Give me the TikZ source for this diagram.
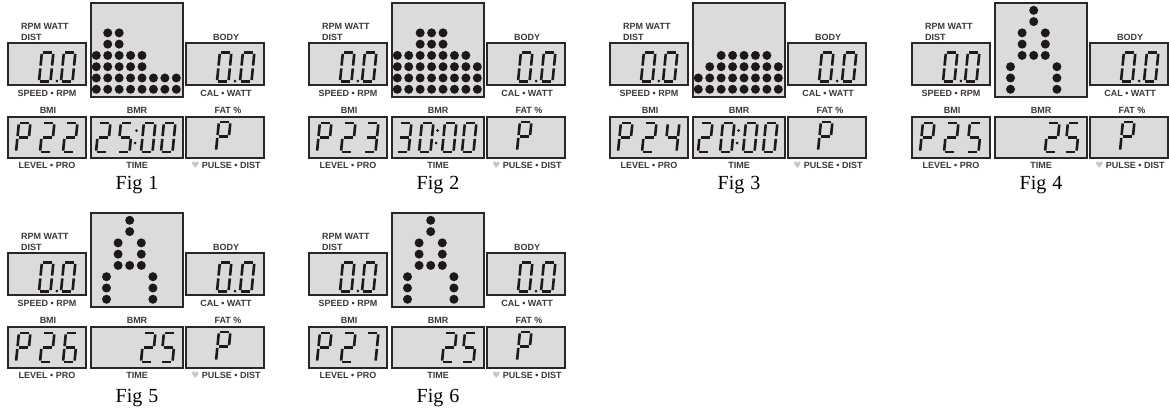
\documentclass[tikz,border=0pt]{standalone}
\usepackage{fontspec}
\setmainfont{Liberation Serif}
\setsansfont{Liberation Sans}
\newfontfamily\cuorefont{DejaVu Sans}
\usepackage{tikz}
\usetikzlibrary{positioning}

\definecolor{fondolcd}{RGB}{219,219,219}
\definecolor{bordo}{RGB}{45,38,38}
\definecolor{inchiostro}{RGB}{30,24,24}
\definecolor{scritta}{RGB}{60,56,56}

\tikzset{
  lcdbox/.style={draw=bordo, fill=fondolcd, line width=1.5pt},
  lcdseg/.style={draw=inchiostro, line width=2.6pt},
  punto/.style={fill=inchiostro},
  etic/.style={font=\sffamily\bfseries\fontsize{9}{9}\selectfont, text=scritta, inner sep=0pt},
  didascalia/.style={font=\fontsize{20}{20}\selectfont, inner sep=0pt},
}

% Segmenti della cifra (coordinate locali, base in basso a sinistra)
\def\trattoa{(1.4,-29) -- (10.1,-29)}
\def\trattob{(11.5,-27.6) -- (11.5,-15.9)}
\def\trattoc{(11.5,-13.1) -- (11.5,-1.4)}
\def\trattod{(1.4,0) -- (10.1,0)}
\def\trattoe{(0,-1.4) -- (0,-13.1)}
\def\trattof{(0,-15.9) -- (0,-27.6)}
\def\trattog{(1.4,-14.5) -- (10.1,-14.5)}

% Cifre
\newcommand{\defcifra}[2]{\expandafter\def\csname cifra#1\endcsname{#2}}
\defcifra{0}{a,b,c,d,e,f}
\defcifra{2}{a,b,g,e,d}
\defcifra{3}{a,b,g,c,d}
\defcifra{4}{f,g,b,c}
\defcifra{5}{a,f,g,c,d}
\defcifra{6}{a,f,g,e,d,c}
\defcifra{7}{a,b,c}
\defcifra{P}{a,b,f,g,e}

\newcommand{\lcdcifra}[3]{%
  \begin{scope}[shift={(#1,#2)}, xslant=0.1]
    \edef\listaseg{\csname cifra#3\endcsname}
    \foreach \s in \listaseg {\draw[lcdseg] \csname tratto\s\endcsname;}
  \end{scope}}

% Barre di punti: colonna/altezza
\newcommand{\barre}[1]{%
  \foreach \c/\h in {#1} {
    \foreach \r in {1,...,\h} {
      \fill[punto] ({96.3+11.43*\c},{10.3+11.28*(8-\r)}) circle (4.5pt);
    }
  }}

% Lettera A di punti
\newcommand{\letteraA}{%
  \foreach \c/\r in {2/0,2/1,1/2,3/2,1/3,3/3,1/4,2/4,3/4,0/5,4/5,0/6,4/6,0/7,4/7} {
    \fill[punto] ({106.5+11.6*\c},{10.3+11.28*\r}) circle (4.5pt);
  }}

% Livello P.. e tempo
\newcommand{\livello}[2]{%
  \lcdcifra{16}{152}{P} \lcdcifra{40}{152}{#1} \lcdcifra{63}{152}{#2}}
\newcommand{\tempo}[2]{%
  \lcdcifra{96}{152}{#1} \lcdcifra{118}{152}{#2}
  \fill[inchiostro] (136.5,130.5) circle (1.5pt);
  \fill[inchiostro] (135.2,143) circle (1.5pt);
  \lcdcifra{141}{152}{0} \lcdcifra{161}{152}{0}}
\newcommand{\etalcd}{%
  \lcdcifra{141}{152}{2} \lcdcifra{161}{152}{5}}

% Pannello completo
\newcommand{\pannello}[5]{%
\begin{scope}[shift={(#2,#3)}]
  % riquadri
  \draw[lcdbox] (8,43) rectangle (86,85);
  \draw[lcdbox] (91,3) rectangle (183,97);
  \draw[lcdbox] (186,43) rectangle (264,85);
  \draw[lcdbox] (8,117) rectangle (86,158);
  \draw[lcdbox] (91,117) rectangle (183,158);
  \draw[lcdbox] (186,117) rectangle (264,158);

  % scritte
  \node[etic, anchor=west] (#1-rpm) at (21,26) {RPM WATT};
  \node[etic, anchor=west] (#1-dist) at (21,37) {DIST};
  \node[etic] (#1-body) at (226,37) {BODY};
  \node[etic] (#1-speed) at (47,93) {SPEED • RPM};
  \node[etic] (#1-cal) at (226,93) {CAL • WATT};
  \node[etic] (#1-bmi) at (48,110) {BMI};
  \node[etic] (#1-bmr) at (137,110) {BMR};
  \node[etic] (#1-fat) at (228,110) {FAT \%};
  \node[etic] (#1-level) at (47,165) {LEVEL • PRO};
  \node[etic] (#1-time) at (137,165) {TIME};
  \node[etic] (#1-pulse) at (226,165) {{\cuorefont\textcolor{black!22}{♥}} PULSE • DIST};
  \node[didascalia] (#1-fig) at (137,#5) {Fig\hspace{0.3em}#4};

  % 0.0 fissi
  \lcdcifra{39}{81.5}{0} \lcdcifra{61}{81.5}{0}
  \fill[inchiostro] (56.8,81) circle (1.5pt);
  \lcdcifra{217}{81.5}{0} \lcdcifra{240}{81.5}{0}
  \fill[inchiostro] (235,81) circle (1.5pt);

  % P del grasso
  \lcdcifra{216}{151}{P}
\end{scope}}

\begin{document}
\begin{tikzpicture}[x=1pt, y=-1pt]
\useasboundingbox (0,0) rectangle (1169,416);

% Fig 1
\pannello{f1}{0}{0}{1}{185}
\begin{scope}[shift={(0,0)}]
  \barre{0/4,1/6,2/6,3/4,4/4,5/2,6/2,7/2}
  \livello{2}{2}
  \tempo{2}{5}
\end{scope}

% Fig 2
\pannello{f2}{301}{0}{2}{185}
\begin{scope}[shift={(301,0)}]
  \barre{0/4,1/4,2/6,3/6,4/6,5/4,6/4,7/3}
  \livello{2}{3}
  \tempo{3}{0}
\end{scope}

% Fig 3
\pannello{f3}{602}{0}{3}{185}
\begin{scope}[shift={(602,0)}]
  \barre{0/2,1/3,2/4,3/4,4/4,5/4,6/4,7/3}
  \livello{2}{4}
  \tempo{2}{0}
\end{scope}

% Fig 4
\pannello{f4}{904}{0}{4}{185}
\begin{scope}[shift={(904,0)}]
  \letteraA
  \livello{2}{5}
  \etalcd
\end{scope}

% Fig 5
\pannello{f5}{0}{210}{5}{188}
\begin{scope}[shift={(0,210)}]
  \letteraA
  \livello{2}{6}
  \etalcd
\end{scope}

% Fig 6
\pannello{f6}{301}{210}{6}{188}
\begin{scope}[shift={(301,210)}]
  \letteraA
  \livello{2}{7}
  \etalcd
\end{scope}

\end{tikzpicture}
\end{document}
